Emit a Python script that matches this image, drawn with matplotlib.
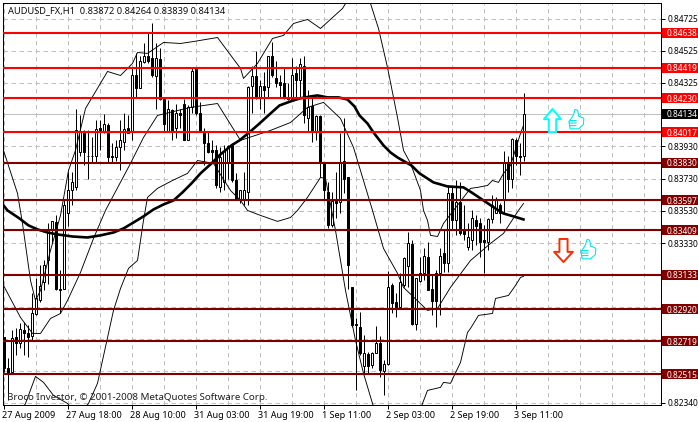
import numpy as np
import matplotlib
matplotlib.use("Agg")
import matplotlib.pyplot as plt
from matplotlib.path import Path
from matplotlib.patches import Rectangle
from matplotlib.transforms import blended_transform_factory, ScaledTranslation

plt.rcParams['font.family'] = ['Noto Sans', 'DejaVu Sans']

# ---- candles, prices in 1e-5 points ----
opens = [82744,82552,82527,82744,82707,82788,82769,82750,82887,82974,83086,83222,83409,83458,83048,83048,83520,83657,83676,83893,
84011,83874,83874,83874,84042,84024,84061,83874,83862,83924,83961,84042,84017,84371,84291,84452,84489,84477,84365,84471,
84228,84024,84154,84042,84141,84197,83968,84173,84415,84141,84017,83949,83906,83906,83676,83707,83825,83937,83719,83595,
83595,83645,84303,84365,84235,84303,84297,84495,84353,84328,84322,84235,84228,84384,84340,84427,84110,84179,84017,84117,
83825,83645,83440,83589,83583,83843,83738,83055,82825,82806,82564,82639,82570,82645,82707,82533,82577,83067,82962,82931,
83067,83185,83322,82825,83092,83142,83241,83042,83142,83142,83266,83204,83639,83471,83583,83409,83303,83347,83471,83452,
83347,83334,83477,83520,83564,83595,83825,83731,83968,83874,83872]
highs = [82744,82614,82788,82800,82831,82837,82819,83017,83111,83191,83222,83452,83465,83502,83160,83595,83769,83769,84166,84123,
84030,84030,83986,84092,84092,84129,84073,83949,83968,84092,84141,84123,84421,84508,84495,84570,84632,84694,84570,84539,
84228,84216,84166,84197,84166,84228,84185,84415,84415,84204,84048,84017,83968,83937,83924,83937,83937,83949,83763,83657,
83769,84303,84433,84526,84340,84390,84495,84576,84464,84371,84415,84322,84477,84433,84477,84495,84284,84247,84123,84123,
83825,83707,83645,83769,84011,84110,83738,83055,82862,82899,82757,82651,82651,82813,82750,82601,83154,83080,83017,83142,
83241,83396,83347,83111,83241,83297,83334,83129,83160,83297,83409,83688,83682,83719,83707,83564,83452,83533,83502,83483,
83440,83489,83626,83614,83576,83899,83874,83980,83980,83949,84264]
lows = [82527,82353,82527,82632,82676,82632,82620,82719,82881,82962,83036,83073,83328,83036,82893,83048,83434,83564,83657,83874,
83812,83731,83825,83825,83906,84011,83825,83825,83843,83781,83906,84011,83968,84235,84291,84446,84446,84359,84166,84216,
84017,84017,83968,83980,84048,83968,83968,84141,84123,84017,83812,83887,83825,83670,83645,83657,83731,83707,83595,83576,
83564,83564,84135,84228,84166,84141,84235,84359,84297,84235,84228,84216,84216,84235,84235,84073,84017,83955,83968,83738,
83595,83421,83427,83489,83514,83639,83048,82806,82415,82632,82521,82521,82552,82645,82496,82384,82570,82893,82868,82924,
83055,83055,82819,82788,83086,83098,83036,82881,82806,82881,83148,83148,83409,83378,83378,83347,83285,83285,83316,83241,
83142,83285,83452,83514,83452,83520,83645,83670,83812,83750,83839]
closes = [82552,82521,82738,82707,82794,82769,82744,82893,82986,83061,83191,83409,83465,83048,83036,83564,83657,83707,84030,84024,
83893,83868,83868,84036,84024,84067,83862,83862,83924,83968,84036,84011,84377,84291,84464,84489,84464,84371,84477,84228,
84067,84160,84024,84135,84123,83968,84173,84402,84135,84017,83949,83893,83893,83688,83862,83899,83930,83719,83607,83657,
83657,84297,84365,84235,84303,84284,84495,84371,84322,84309,84235,84228,84377,84340,84440,84123,84173,84017,84117,83831,
83657,83440,83589,83576,83825,83731,83191,82819,82819,82645,82645,82564,82645,82707,82539,82577,83055,82955,82931,83086,
83235,83328,82825,83111,83142,83253,83036,82968,82968,83253,83204,83639,83471,83583,83390,83384,83371,83483,83434,83334,
83334,83477,83564,83595,83520,83825,83731,83974,83874,83862,84134]

# ---- indicator curves: knots (bar index, price points) ----
ma_bar = [0,1,4,6.25,8.5,11,13.5,17.25,21,24.25,27.5,30,32.5,35,37.5,40,42.5,44.75,47,49.25,52,54.25,57,59,61.75,64,66.75,69,71.75,74,76.75,78.5,81,83.75,86,87.75,89,91,92.5,95,96.75,98.5,102,104,107.5,111,115,117,120,123,125,127.5,130]
ma_val = [83564,83533,83483,83440,83415,83396,83384,83371,83365,83378,83396,83421,83458,83496,83539,83570,83595,83645,83701,83763,83825,83881,83937,83968,84024,84073,84135,84185,84210,84228,84241,84247,84235,84235,84222,84179,84123,84073,84017,83937,83893,83862,83812,83763,83707,83682,83676,83645,83595,83545,83514,83496,83477]
up_bar = [0,3.5,4.75,6.75,8,9.25,11.75,14.25,16.25,18,20.5,26,29.25,32.25,33.5,36,40,44.25,47.5,53.5,59.25,60,63.5,67.25,70,72.5,76,79.25,82.25,84.75,86.75,89.75,91.75,93.75,96,98.5,100,101.75,104.25,105,106,106.75,108.5,110,112.5,116.75,118.5,121,122.25,123.75,125,126.75,129.25,130]
up_val = [83906,83639,83452,83098,82974,83036,83285,83502,83781,83906,84166,84396,84371,84446,84514,84508,84576,84570,84582,84607,84415,84353,84446,84601,84620,84694,84719,84663,84731,84787,84868,84887,84818,84663,84421,84110,83906,83825,83657,83533,83471,83378,83371,83452,83533,83670,83676,83688,83719,83707,83763,83812,84011,84061]
mid_bar = [0,4.25,7.25,9.25,11.75,14.25,16,19.25,22.5,25.5,31.75,35,38.5,46.75,53.5,59.25,66.75,71.75,76,80,84.25,87.5,92.25,95,98.5,100,106,108.5,111.75,116.75,121.75,125,128.75,130]
mid_val = [83067,82868,82769,82769,82862,82893,82974,83148,83359,83533,83825,83986,84123,84173,84197,83968,84030,84079,84173,84204,84104,83924,83533,83297,83142,83055,82912,82924,83055,83222,83328,83390,83533,83576]
low_bar = [3,5.5,8,10,12.5,16,18.75,21.25,23.5,27.5,29.25,31.25,33.5,35,36,38.5,42.25,46,48.5,52.5,56.75,59.25,61,64.25,68.5,71.75,73.5,76,79.25,80.5,83,85.5,88,90,92.25,95.5,101.75,104.75,106,109.25,110,111.75,114.25,116,116.75,118.75,122.25,123,126.25,128,129.25,130]
low_val = [82229,82334,82502,82465,82384,82334,82260,82334,82459,82912,83048,83173,83222,83471,83614,83670,83719,83763,83843,83825,83657,83595,83533,83502,83465,83489,83533,83614,83738,83731,83409,83036,82726,82521,82334,82105,82105,82334,82415,82434,82465,82459,82589,82775,82800,82881,82893,82986,83005,83067,83117,83123]

# ---- horizontal levels ----
red_levels = [0.84638, 0.84419, 0.84230, 0.84017]
dark_levels = [0.83830, 0.83597, 0.83409, 0.83133, 0.82920, 0.82719, 0.82515]
last_price = 0.84134

# ---- axes labels ----
price_ticks = [0.84725,0.84525,0.84325,0.84130,0.83930,0.83730,0.83530,0.83330,0.83135,0.82935,0.82735,0.82535,0.82340]
price_labels = ['0.84725','0.84525','0.84325','','0.83930','0.83730','0.83530','0.83330','','','','','0.82340']
date_ticks = [0,16,32,48,64,80,96,112,128]
date_labels = ['27 Aug 2009','27 Aug 18:00','28 Aug 10:00','31 Aug 03:00','31 Aug 19:00','1 Sep 11:00','2 Sep 03:00','2 Sep 19:00','3 Sep 11:00']
header = 'AUDUSD_FX,H1  0.83872 0.84264 0.83839 0.84134'
footer = 'Broco Investor, \u00a9 2001-2008 MetaQuotes Software Corp.'

P = 1e-5
o, h, l, c = [np.array(a) * P for a in (opens, highs, lows, closes)]
bars = np.arange(len(o))

W, H = 698, 422
fig = plt.figure(figsize=(W/100, H/100), dpi=100, facecolor='white')
ax = fig.add_axes([3/W, 1-405/H, (661-3)/W, (405-3)/H], facecolor='white')
scale = 0.02385/384
ax.set_xlim(-0.125, 164.375)
ax.set_ylim(0.8234-2.5*scale, 0.84725+15.5*scale)

px = 0.72
ax.set_xticks(date_ticks, date_labels, ha='left', fontsize=6.55)
ax.set_xticks([k for k in range(8,161,8) if k not in date_ticks], minor=True)
ax.set_yticks(price_ticks, price_labels, fontsize=6.0)
ax.yaxis.tick_right()
ax.tick_params(axis='x', which='major', length=3, width=px, pad=1.5, color='black')
ax.tick_params(axis='x', which='minor', length=0)
ax.tick_params(axis='y', length=3, width=px, pad=1.5, color='black')
shift = ScaledTranslation(-1.5/100, 0, fig.dpi_scale_trans)
for lab in ax.get_xticklabels():
    lab.set_transform(lab.get_transform() + shift)
for s in ax.spines.values():
    s.set_linewidth(px); s.set_color('black')
ax.set_axisbelow(True)
ax.grid(True, which='both', color='#c0c0c0', linewidth=px, linestyle=(0,(4.5,3.5)), zorder=0)
ax.axhline(last_price, color='#c0c0c0', lw=px, zorder=1)

# candles
ax.vlines(bars, l, h, color='black', lw=px, zorder=2)
up = c >= o
ax.bar(bars[up], (c-o)[up], bottom=o[up], width=0.5, facecolor='white', edgecolor='black', linewidth=px, zorder=3)
ax.bar(bars[~up], (o-c)[~up], bottom=c[~up], width=0.5, facecolor='black', edgecolor='black', linewidth=px, zorder=3)

# indicators
for bx, vy in ((up_bar, up_val), (mid_bar, mid_val), (low_bar, low_val)):
    ax.plot(bx, np.array(vy)*P, color='black', lw=0.65, zorder=4)
ax.plot(ma_bar, np.array(ma_val)*P, color='black', lw=1.9, zorder=4, solid_joinstyle='round')

# levels + right-hand boxes
blend = blended_transform_factory(fig.transFigure, ax.transData)
box_h = 10*scale
def tag(val, col):
    ax.add_patch(Rectangle((662/W, val-box_h/2), 36/W, box_h, transform=blend, facecolor=col, edgecolor='none', clip_on=False, zorder=6))
    ax.text(666.5/W, val, f'{val:.5f}', transform=blend, color='white', fontsize=6.0, va='center_baseline', ha='left', zorder=7, clip_on=False)
for v in red_levels:
    ax.axhline(v, color='#ff0000', lw=1.5, zorder=5); tag(v, '#ff0000')
for v in dark_levels:
    ax.axhline(v, color='#800000', lw=1.5, zorder=5); tag(v, '#800000')
tag(last_price, '#000000')

# signal glyphs anchored in data space
arrow = [(0,1),(0.74,0.12),(0.32,0.12),(0.32,-1),(-0.32,-1),(-0.32,0.12),(-0.74,0.12),(0,1)]
up_path = Path(arrow, closed=True)
down_path = Path([(x*1.1,-y) for x,y in arrow], closed=True)
thumb_out = [(-0.15,1),(0.12,0.92),(0.2,0.35),(0.72,0.12),(0.68,-0.5),(0.2,-0.92),(-0.62,-0.92),(-0.75,-0.2),(-0.5,0.12),(-0.28,0.5),(-0.15,1)]
verts = list(thumb_out); codes = [Path.MOVETO]+[Path.LINETO]*(len(thumb_out)-1)
for yy in (-0.1,-0.35,-0.6):
    verts += [(-0.7,yy),(0.0,yy)]; codes += [Path.MOVETO, Path.LINETO]
thumb_path = Path(verts, codes)
ax.plot([137],[0.84095], marker=up_path, ms=16.6, mfc='white', mec='#00ffff', mew=1.4, ls='none', zorder=6)
ax.plot([139.9],[0.83288], marker=down_path, ms=16.6, mfc='white', mec='#ff2a00', mew=1.4, ls='none', zorder=6)
ax.plot([143],[0.84098], marker=thumb_path, ms=14.6, mfc='white', mec='#00e8f0', mew=0.8, ls='none', zorder=6)
ax.plot([146.2],[0.83291], marker=thumb_path, ms=14.6, mfc='white', mec='#00e8f0', mew=0.8, ls='none', zorder=6)

fig.text(8/W, 1-10.5/H, header, fontsize=6.7, color='#101010', va='center', ha='left')
fig.text(7/W, 1-397/H, footer, fontsize=7.0, color='#202020', va='center', ha='left', zorder=8)

fig.savefig('out.png', dpi=100, facecolor='white')
